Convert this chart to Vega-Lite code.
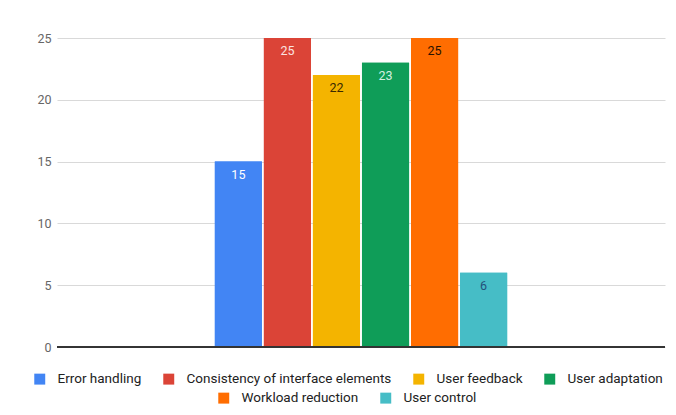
{
  "$schema": "https://vega.github.io/schema/vega-lite/v6.json",
  "width": 608,
  "height": 309,
  "autosize": {"type": "none"},
  "padding": {"left": 57, "top": 38, "right": 11, "bottom": 68},
  "background": "white",
  "data": {"values": [
    {"group": "All", "series": "Error handling", "value": 15},
    {"group": "All", "series": "Consistency of interface elements", "value": 25},
    {"group": "All", "series": "User feedback", "value": 22},
    {"group": "All", "series": "User adaptation", "value": 23},
    {"group": "All", "series": "Workload reduction", "value": 25},
    {"group": "All", "series": "User control", "value": 6}
  ]},
  "encoding": {
    "x": {"field": "group", "type": "nominal",
      "scale": {"paddingInner": 0, "paddingOuter": 0.54}, "axis": null},
    "xOffset": {"field": "series", "type": "nominal", "sort": null,
      "scale": {"paddingInner": 0.04, "paddingOuter": 0}},
    "y": {"field": "value", "type": "quantitative",
      "scale": {"domain": [0, 25]},
      "axis": {"title": null, "values": [0, 5, 10, 15, 20, 25], "ticks": false, "domain": false,
        "labelPadding": 6, "labelColor": "#666666", "labelFontSize": 12.5, "labelFont": "Roboto",
        "gridColor": "#d9d9d9"}}
  },
  "layer": [
    {
      "mark": {"type": "bar"},
      "encoding": {
        "color": {"field": "series", "type": "nominal", "sort": null,
          "scale": {"domain": ["Error handling", "Consistency of interface elements", "User feedback", "User adaptation", "Workload reduction", "User control"],
            "range": ["#4285F4", "#DB4437", "#F4B400", "#0F9D58", "#FF6D01", "#46BDC6"]},
          "legend": {"values": ["Error handling", "Consistency of interface elements", "User feedback", "User adaptation"], "title": null,
            "orient": "none", "legendX": -24, "legendY": 334}}
      }
    },
    {
      "mark": {"type": "bar"},
      "encoding": {
        "color": {"field": "series", "type": "nominal", "sort": null,
          "scale": {"domain": ["Error handling", "Consistency of interface elements", "User feedback", "User adaptation", "Workload reduction", "User control"],
            "range": ["#4285F4", "#DB4437", "#F4B400", "#0F9D58", "#FF6D01", "#46BDC6"]},
          "legend": {"values": ["Workload reduction", "User control"], "title": null,
            "orient": "none", "legendX": 160, "legendY": 353}}
      }
    },
    {
      "mark": {"type": "rule", "color": "#333333", "strokeWidth": 1},
      "encoding": {"y": {"datum": 0}, "x": {"value": 0}, "x2": {"value": 608}, "xOffset": {"value": 0}}
    },
    {
      "mark": {"type": "text", "baseline": "middle", "dy": 13, "fontSize": 12.5, "font": "Roboto"},
      "encoding": {
        "text": {"field": "value", "type": "quantitative"},
        "color": {"field": "series", "type": "nominal", "sort": null,
          "scale": {"domain": ["Error handling", "Consistency of interface elements", "User feedback", "User adaptation", "Workload reduction", "User control"],
            "range": ["#ffffff", "#fbe3e0", "#3a2a00", "#d5f0e0", "#2a1200", "#24507a"]},
          "legend": null}
      }
    }
  ],
  "resolve": {"scale": {"color": "independent"}},
  "config": {
    "view": {"stroke": null},
    "legend": {
      "direction": "horizontal",
      "symbolType": "square",
      "symbolSize": 120,
      "symbolStrokeWidth": 0,
      "symbolOpacity": 1,
      "labelFont": "Roboto",
      "labelFontSize": 13.5,
      "labelColor": "#222222",
      "labelOffset": 11,
      "columnPadding": 20,
      "labelLimit": 300
    }
  }
}
